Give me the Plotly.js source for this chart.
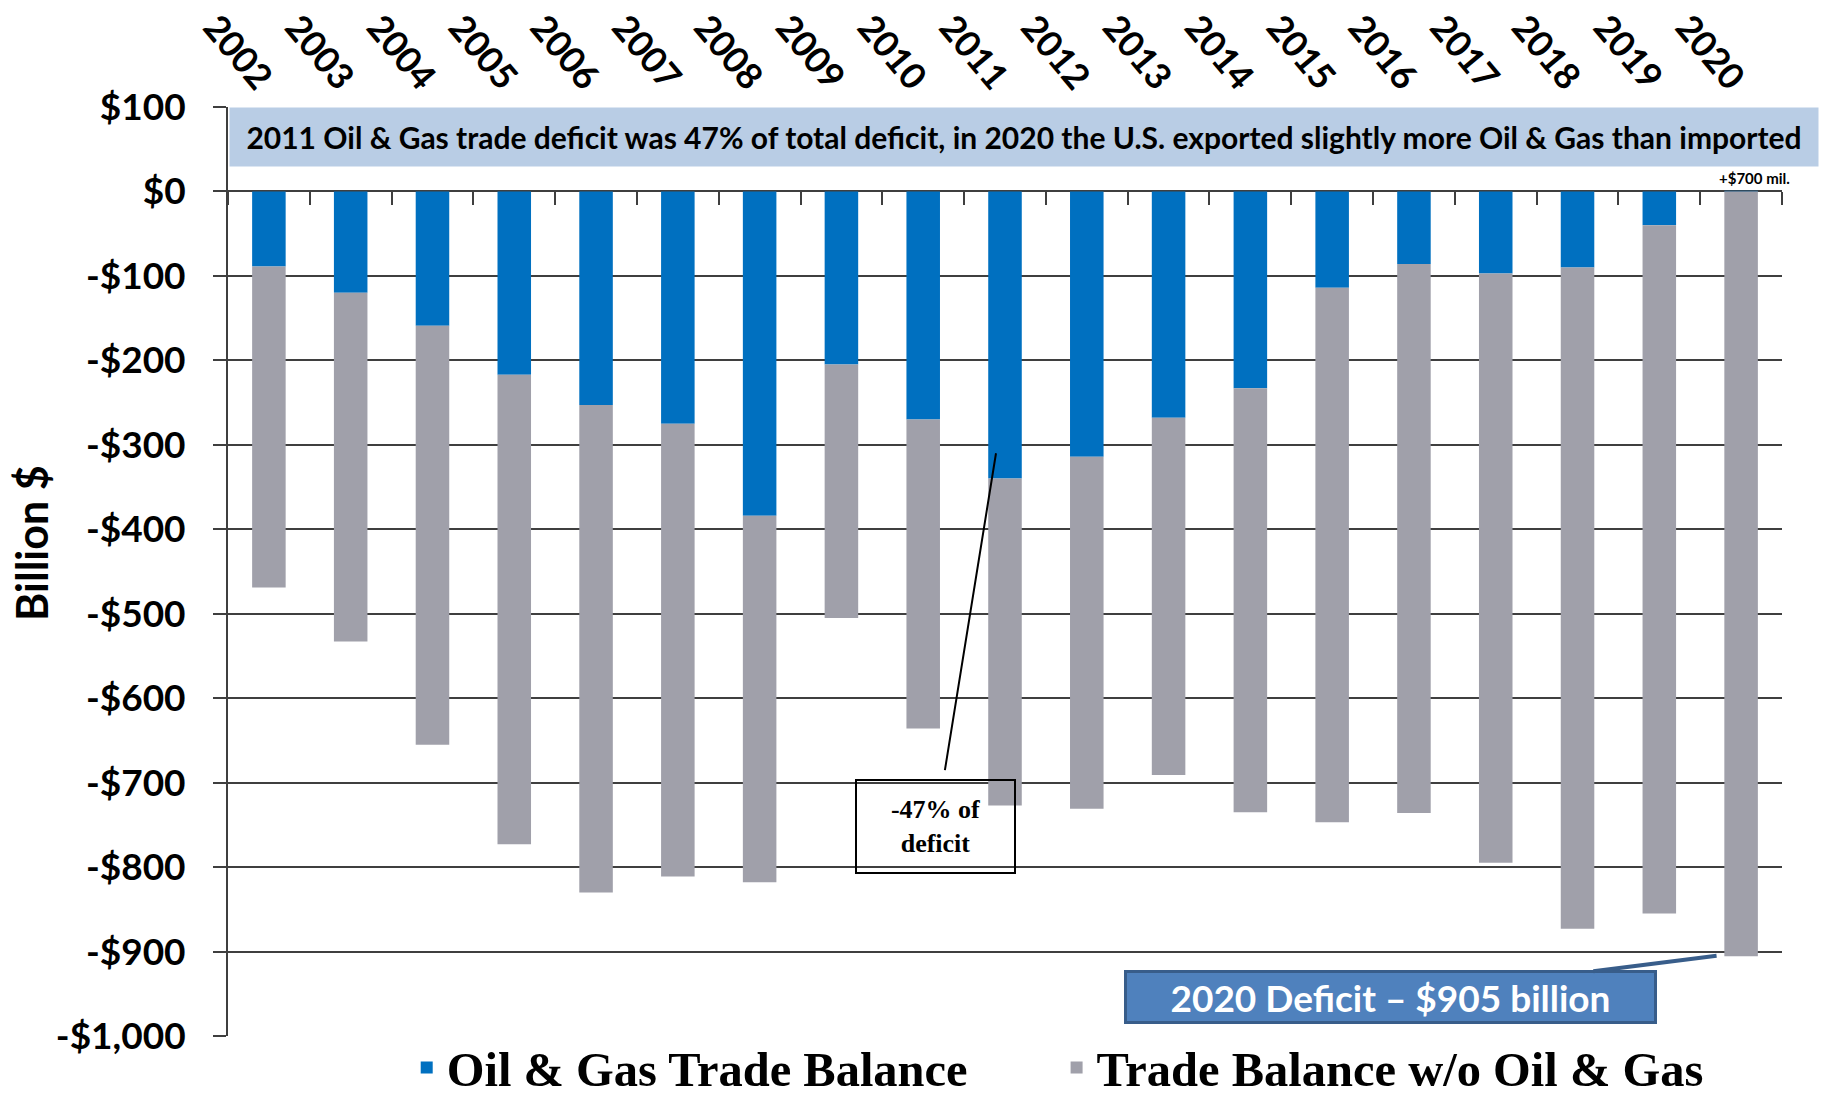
<!DOCTYPE html>
<html>
<head>
<meta charset="utf-8">
<script src="https://cdn.plot.ly/plotly-3.0.1.min.js"></script>
<style>
  html, body { margin: 0; padding: 0; background: #ffffff; }
  #plot { width: 1837px; height: 1097px; }
</style>
</head>
<body>
<div id="plot"></div>
<script>
// Years on the category axis
let years = ["2002", "2003", "2004", "2005", "2006", "2007", "2008", "2009", "2010", "2011",
             "2012", "2013", "2014", "2015", "2016", "2017", "2018", "2019", "2020"];

// Oil & Gas trade balance (billion $)
let oilGas = [-89, -120, -159, -217, -253, -275, -384, -205, -270, -340,
              -314, -268, -233, -114, -86, -97, -90, -40, 0.7];

// Trade balance without Oil & Gas (billion $)
let noOilGas = [-380, -413, -496, -556, -577, -536, -434, -300, -366, -387,
                -417, -423, -502, -633, -650, -698, -783, -815, -905.7];

// Y tick labels
let yTickVals = [100, 0, -100, -200, -300, -400, -500, -600, -700, -800, -900, -1000];
let yTickText = ["$100", "$0", "-$100", "-$200", "-$300", "-$400", "-$500", "-$600",
                 "-$700", "-$800", "-$900", "-$1,000"];

let yRange = [-1000, 100];
let sans = "Lato, 'Open Sans', sans-serif";
let serif = "'Liberation Serif', 'Times New Roman', serif";
let gridCol = "#3f3f3f";
let legendFont = { family: serif, size: 48.5, color: "#000000", weight: "bold" };

let traceOil = {
  x: years,
  y: oilGas,
  type: "bar",
  name: "Oil & Gas Trade Balance",
  marker: { color: "#0070c0" },
  legend: "legend",
  hoverinfo: "x+y"
};

let traceRest = {
  x: years,
  y: noOilGas,
  type: "bar",
  name: "Trade Balance w/o Oil & Gas",
  marker: { color: "#a0a0aa" },
  legend: "legend2",
  hoverinfo: "x+y"
};

// draws nothing, only carries the year labels on the top axis
let traceTopLabels = {
  x: years,
  y: oilGas,
  type: "scatter",
  mode: "none",
  xaxis: "x2",
  showlegend: false,
  hoverinfo: "skip"
};

let layout = {
  width: 1837,
  height: 1097,
  paper_bgcolor: "#ffffff",
  plot_bgcolor: "#ffffff",
  margin: { l: 228, r: 55, t: 107, b: 61, autoexpand: false },
  barmode: "relative",
  bargap: 0.59,
  showlegend: true,
  // one legend per series so the gap between them matches
  legend: {
    orientation: "h",
    x: 0.115, xanchor: "left",
    y: -0.0343, yanchor: "middle",
    font: legendFont
  },
  legend2: {
    orientation: "h",
    x: 0.5332, xanchor: "left",
    y: -0.0343, yanchor: "middle",
    font: legendFont
  },
  // ticks at category boundaries along the $0 line
  xaxis: {
    type: "category",
    anchor: "free",
    position: (0 - yRange[0]) / (yRange[1] - yRange[0]),
    side: "bottom",
    showgrid: false,
    zeroline: false,
    showline: false,
    ticks: "outside",
    tickson: "boundaries",
    ticklen: 13,
    tickwidth: 2,
    tickcolor: gridCol,
    showticklabels: false,
    range: [-0.5, years.length - 0.5]
  },
  // year labels along the top
  xaxis2: {
    overlaying: "x",
    anchor: "y",
    side: "top",
    type: "category",
    range: [-0.5, years.length - 0.5],
    tickangle: 50,
    ticks: "",
    ticklabelstandoff: 0,
    showgrid: false,
    zeroline: false,
    showline: false,
    tickfont: { family: sans, size: 36, color: "#000000", weight: "bold" }
  },
  yaxis: {
    range: yRange,
    tickmode: "array",
    tickvals: yTickVals,
    ticktext: yTickText,
    ticks: "outside",
    ticklen: 13,
    tickwidth: 2,
    tickcolor: gridCol,
    ticklabelstandoff: 20,
    showgrid: true,
    gridcolor: gridCol,
    gridwidth: 2,
    zeroline: false,
    showline: true,
    linecolor: gridCol,
    linewidth: 2,
    tickfont: { family: sans, size: 37, color: "#000000", weight: "bold" }
  },
  annotations: [
    {
      // y axis title, sits a little above the middle of the axis
      xref: "paper", yref: "paper",
      x: -0.126, y: 0.531,
      xanchor: "center", yanchor: "middle",
      showarrow: false,
      textangle: -90,
      text: "Billion $",
      font: { family: sans, size: 43, color: "#000000", weight: "bold" }
    },
    {
      xref: "paper", yref: "y",
      x: 0.5123, y: 64.5,
      showarrow: false,
      text: "2011 Oil & Gas trade deficit was 47% of total deficit, in 2020 the U.S. exported slightly more Oil & Gas than imported",
      width: 1588, height: 58,
      bgcolor: "#b9cde5",
      borderpad: 0,
      font: { family: sans, size: 30, color: "#000000", weight: "bold" }
    },
    {
      xref: "x", yref: "y",
      x: 18.16, y: 16,
      showarrow: false,
      text: "+$700 mil.",
      font: { family: sans, size: 15, color: "#000000", weight: "bold" }
    },
    {
      xref: "x", yref: "y",
      x: 8.89, y: -310,
      axref: "x", ayref: "y",
      ax: 8.154, ay: -752,
      showarrow: true,
      arrowhead: 0,
      arrowwidth: 2,
      arrowcolor: "#000000",
      startstandoff: 10,
      text: "-47% of<br>deficit",
      width: 155, height: 89,
      borderpad: 1,
      borderwidth: 2,
      bordercolor: "#000000",
      bgcolor: "rgba(0,0,0,0)",
      font: { family: serif, size: 26, color: "#000000", weight: "bold" }
    },
    {
      xref: "x", yref: "y",
      x: 17.7, y: -905,
      ax: -326, ay: 41,
      showarrow: true,
      arrowhead: 0,
      arrowwidth: 4,
      arrowcolor: "#385d8a",
      text: "2020 Deficit \u2013 $905 billion",
      width: 527, height: 48,
      borderpad: 0,
      borderwidth: 3,
      bordercolor: "#385d8a",
      bgcolor: "#4f81bd",
      font: { family: sans, size: 37, color: "#ffffff", weight: "bold" }
    }
  ]
};

Plotly.newPlot("plot", [traceOil, traceRest, traceTopLabels], layout, { displayModeBar: false, staticPlot: true });
</script>
</body>
</html>
